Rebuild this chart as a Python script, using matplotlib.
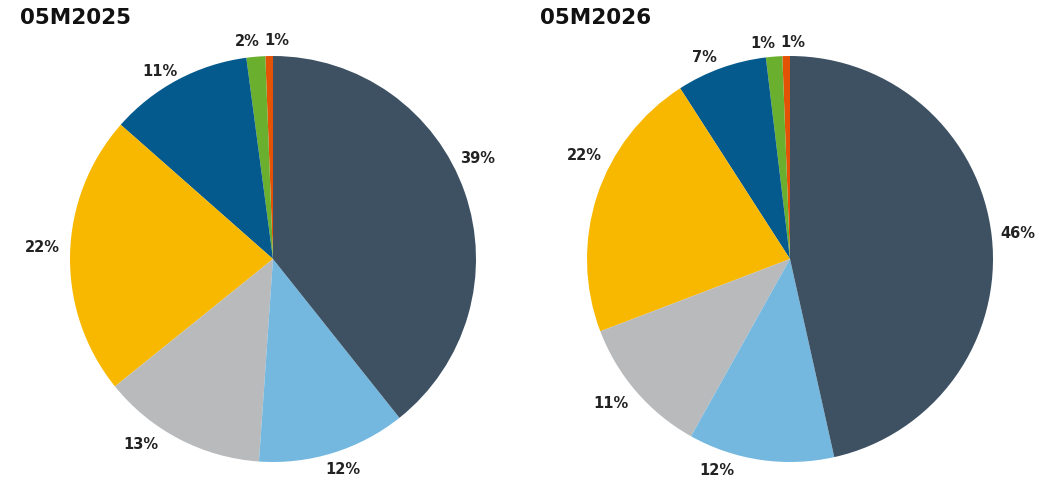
import matplotlib
matplotlib.use("Agg")
import matplotlib.pyplot as plt
import numpy as np

plt.rcParams['font.family'] = ['DejaVu Sans']

# Slice order: counterclockwise from top
categories = ["Orange", "Green", "Blue", "Yellow", "Gray", "Light blue", "Dark slate"]
colors = ["#e35205", "#6aaf2e", "#045a8d", "#f9b800", "#b9babc", "#74b8e0", "#3d5163"]

values_2025 = [0.6, 1.5, 11.4, 22.3, 13.1, 11.8, 39.3]
labels_2025 = ["1%", "2%", "11%", "22%", "13%", "12%", "39%"]

values_2026 = [0.6, 1.3, 7.2, 21.7, 11.1, 11.6, 46.5]
labels_2026 = ["1%", "1%", "7%", "22%", "11%", "12%", "46%"]

titles = ["05M2025", "05M2026"]

# label placement tweaks (angle offset from slice middle in degrees, radial distance)
label_shift_2025 = [(-2.2, 1.075), (1.9, 1.08), (2.9, 1.08), (-1.7, 1.14),
                    (-7.9, 1.12), (1.1, 1.095), (6.9, 1.125)]
label_shift_2026 = [(-1.9, 1.065), (2.6, 1.07), (3.3, 1.08), (-8.4, 1.135),
                    (-1.9, 1.135), (-10.8, 1.10), (0.2, 1.13)]

W, H = 1062, 494
fig = plt.figure(figsize=(W / 100, H / 100), dpi=100)

r = 203
centers = [(273, 259), (790, 259)]
title_x = [20, 540]

for (cx, cy), vals, labs, shifts, title, tx in zip(
        centers, [values_2025, values_2026], [labels_2025, labels_2026],
        [label_shift_2025, label_shift_2026], titles, title_x):
    ax = fig.add_axes([(cx - r) / W, (H - cy - r) / H, 2 * r / W, 2 * r / H])
    wedges, _ = ax.pie(vals, colors=colors, startangle=90, counterclock=True,
                       radius=1, wedgeprops=dict(linewidth=0))
    ax.set_xlim(-1, 1)
    ax.set_ylim(-1, 1)
    ax.set_aspect('equal')
    ax.axis('off')
    for w, lab, (da, d) in zip(wedges, labs, shifts):
        ang = np.deg2rad((w.theta1 + w.theta2) / 2 + da)
        x, y = d * np.cos(ang), d * np.sin(ang)
        ax.text(x, y, lab, ha='center', va='center', fontsize=10.5,
                fontweight='bold', color='#222222')
    fig.text(tx / W, 1 - 24 / H, title, fontsize=15.5, fontweight='heavy',
             color='#111111', ha='left', va='baseline')

fig.savefig("out.png", dpi=100)
